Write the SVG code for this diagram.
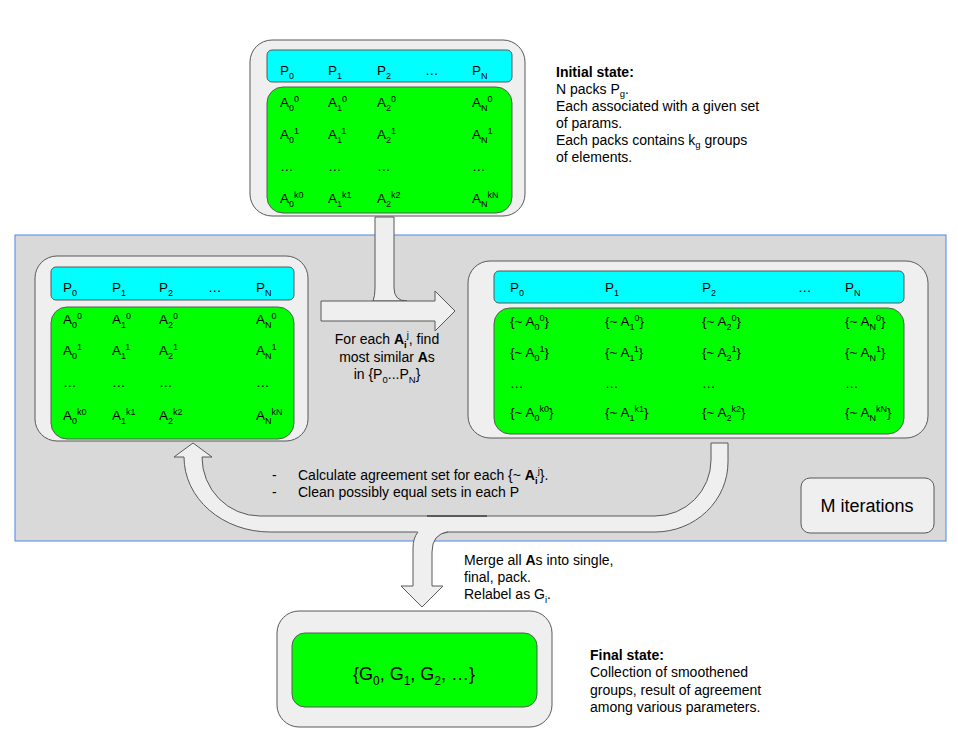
<svg xmlns="http://www.w3.org/2000/svg" width="958" height="755" viewBox="0 0 958 755">
<style>
text{font-family:"Liberation Sans",Arial,sans-serif;font-size:14px;fill:#000}
.c{font-size:13.5px}
.b{font-weight:bold}
.s{font-size:9px}
.ss{font-size:9.5px}
.m{text-anchor:middle}
.outer{fill:#efefef;stroke:#595959;stroke-width:1}
.cyan{fill:#00ffff;stroke:#595959;stroke-width:1}
.green{fill:#00ff00;stroke:#595959;stroke-width:1}
.arrow{fill:#efefef;stroke:#595959;stroke-width:1;stroke-linejoin:miter}
</style>
<rect width="958" height="755" fill="#ffffff"/>
<g id="iteration-region">
<rect x="15" y="235" width="931" height="306" fill="#d9d9d9" stroke="#4a86e8" stroke-width="1"/>
</g>

<g id="node-initial">
<rect class="outer" x="250" y="40" width="275" height="176" rx="22"/>
<rect class="cyan" x="267" y="50" width="245" height="32" rx="5"/>
<rect class="green" x="267" y="87" width="245" height="126" rx="16"/>
<text class="c" x="280" y="75">P<tspan class="s" dy="4">0</tspan></text>
<text class="c" x="328" y="75">P<tspan class="s" dy="4">1</tspan></text>
<text class="c" x="377" y="75">P<tspan class="s" dy="4">2</tspan></text>
<text class="c" x="425" y="75">…</text>
<text class="c" x="472" y="75">P<tspan class="s" dy="4">N</tspan></text>
<text class="c" x="280" y="107">A<tspan class="s" dy="4">0</tspan><tspan class="s" dy="-9">0</tspan></text>
<text class="c" x="328" y="107">A<tspan class="s" dy="4">1</tspan><tspan class="s" dy="-9">0</tspan></text>
<text class="c" x="377" y="107">A<tspan class="s" dy="4">2</tspan><tspan class="s" dy="-9">0</tspan></text>
<text class="c" x="472" y="107">A<tspan class="s" dy="4">N</tspan><tspan class="s" dy="-9">0</tspan></text>
<text class="c" x="280" y="139">A<tspan class="s" dy="4">0</tspan><tspan class="s" dy="-9">1</tspan></text>
<text class="c" x="328" y="139">A<tspan class="s" dy="4">1</tspan><tspan class="s" dy="-9">1</tspan></text>
<text class="c" x="377" y="139">A<tspan class="s" dy="4">2</tspan><tspan class="s" dy="-9">1</tspan></text>
<text class="c" x="472" y="139">A<tspan class="s" dy="4">N</tspan><tspan class="s" dy="-9">1</tspan></text>
<text class="c" x="280" y="171">…</text>
<text class="c" x="328" y="171">…</text>
<text class="c" x="377" y="171">…</text>
<text class="c" x="472" y="171">…</text>
<text class="c" x="280" y="203">A<tspan class="s" dy="4">0</tspan><tspan class="s" dy="-9">k0</tspan></text>
<text class="c" x="328" y="203">A<tspan class="s" dy="4">1</tspan><tspan class="s" dy="-9">k1</tspan></text>
<text class="c" x="377" y="203">A<tspan class="s" dy="4">2</tspan><tspan class="s" dy="-9">k2</tspan></text>
<text class="c" x="472" y="203">A<tspan class="s" dy="4">N</tspan><tspan class="s" dy="-9">kN</tspan></text>
</g>

<g id="label-initial">
<text x="556" y="77" class="b">Initial state:</text>
<text x="556" y="94">N packs P<tspan class="ss" dy="3">g</tspan><tspan dy="-3">.</tspan></text>
<text x="556" y="111">Each associated with a given set</text>
<text x="556" y="128">of params.</text>
<text x="556" y="145">Each packs contains k<tspan class="ss" dy="3">g</tspan><tspan dy="-3"> groups</tspan></text>
<text x="556" y="162">of elements.</text>
</g>

<g id="node-left">
<rect class="outer" x="35" y="256" width="273" height="185" rx="22"/>
<rect class="cyan" x="51" y="267" width="243" height="33" rx="5"/>
<rect class="green" x="51" y="307" width="243" height="132" rx="16"/>
<text class="c" x="63" y="292">P<tspan class="s" dy="4">0</tspan></text>
<text class="c" x="112" y="292">P<tspan class="s" dy="4">1</tspan></text>
<text class="c" x="159" y="292">P<tspan class="s" dy="4">2</tspan></text>
<text class="c" x="208" y="292">…</text>
<text class="c" x="256" y="292">P<tspan class="s" dy="4">N</tspan></text>
<text class="c" x="63" y="324">A<tspan class="s" dy="4">0</tspan><tspan class="s" dy="-9">0</tspan></text>
<text class="c" x="112" y="324">A<tspan class="s" dy="4">1</tspan><tspan class="s" dy="-9">0</tspan></text>
<text class="c" x="159" y="324">A<tspan class="s" dy="4">2</tspan><tspan class="s" dy="-9">0</tspan></text>
<text class="c" x="256" y="324">A<tspan class="s" dy="4">N</tspan><tspan class="s" dy="-9">0</tspan></text>
<text class="c" x="63" y="355">A<tspan class="s" dy="4">0</tspan><tspan class="s" dy="-9">1</tspan></text>
<text class="c" x="112" y="355">A<tspan class="s" dy="4">1</tspan><tspan class="s" dy="-9">1</tspan></text>
<text class="c" x="159" y="355">A<tspan class="s" dy="4">2</tspan><tspan class="s" dy="-9">1</tspan></text>
<text class="c" x="256" y="355">A<tspan class="s" dy="4">N</tspan><tspan class="s" dy="-9">1</tspan></text>
<text class="c" x="63" y="387">…</text>
<text class="c" x="112" y="387">…</text>
<text class="c" x="159" y="387">…</text>
<text class="c" x="256" y="387">…</text>
<text class="c" x="63" y="420">A<tspan class="s" dy="4">0</tspan><tspan class="s" dy="-9">k0</tspan></text>
<text class="c" x="112" y="420">A<tspan class="s" dy="4">1</tspan><tspan class="s" dy="-9">k1</tspan></text>
<text class="c" x="159" y="420">A<tspan class="s" dy="4">2</tspan><tspan class="s" dy="-9">k2</tspan></text>
<text class="c" x="256" y="420">A<tspan class="s" dy="4">N</tspan><tspan class="s" dy="-9">kN</tspan></text>
</g>

<g id="node-right">
<rect class="outer" x="468" y="261" width="460" height="177" rx="22"/>
<rect class="cyan" x="494" y="271" width="410" height="32" rx="5"/>
<rect class="green" x="494" y="308" width="410" height="126" rx="16"/>
<text class="c" x="510" y="292">P<tspan class="s" dy="4">0</tspan></text>
<text class="c" x="605" y="292">P<tspan class="s" dy="4">1</tspan></text>
<text class="c" x="702" y="292">P<tspan class="s" dy="4">2</tspan></text>
<text class="c" x="798" y="292">…</text>
<text class="c" x="845" y="292">P<tspan class="s" dy="4">N</tspan></text>
<text class="c" x="510" y="326">{~ A<tspan class="s" dy="4">0</tspan><tspan class="s" dy="-9">0</tspan><tspan dy="5">}</tspan></text>
<text class="c" x="605" y="326">{~ A<tspan class="s" dy="4">1</tspan><tspan class="s" dy="-9">0</tspan><tspan dy="5">}</tspan></text>
<text class="c" x="702" y="326">{~ A<tspan class="s" dy="4">2</tspan><tspan class="s" dy="-9">0</tspan><tspan dy="5">}</tspan></text>
<text class="c" x="845" y="326">{~ A<tspan class="s" dy="4">N</tspan><tspan class="s" dy="-9">0</tspan><tspan dy="5">}</tspan></text>
<text class="c" x="510" y="357">{~ A<tspan class="s" dy="4">0</tspan><tspan class="s" dy="-9">1</tspan><tspan dy="5">}</tspan></text>
<text class="c" x="605" y="357">{~ A<tspan class="s" dy="4">1</tspan><tspan class="s" dy="-9">1</tspan><tspan dy="5">}</tspan></text>
<text class="c" x="702" y="357">{~ A<tspan class="s" dy="4">2</tspan><tspan class="s" dy="-9">1</tspan><tspan dy="5">}</tspan></text>
<text class="c" x="845" y="357">{~ A<tspan class="s" dy="4">N</tspan><tspan class="s" dy="-9">1</tspan><tspan dy="5">}</tspan></text>
<text class="c" x="510" y="388">…</text>
<text class="c" x="605" y="388">…</text>
<text class="c" x="702" y="388">…</text>
<text class="c" x="845" y="388">…</text>
<text class="c" x="510" y="417">{~ A<tspan class="s" dy="4">0</tspan><tspan class="s" dy="-9">k0</tspan><tspan dy="5">}</tspan></text>
<text class="c" x="605" y="417">{~ A<tspan class="s" dy="4">1</tspan><tspan class="s" dy="-9">k1</tspan><tspan dy="5">}</tspan></text>
<text class="c" x="702" y="417">{~ A<tspan class="s" dy="4">2</tspan><tspan class="s" dy="-9">k2</tspan><tspan dy="5">}</tspan></text>
<text class="c" x="845" y="417">{~ A<tspan class="s" dy="4">N</tspan><tspan class="s" dy="-9">kN</tspan><tspan dy="5">}</tspan></text>
</g>

<g id="node-iterations">
<rect class="outer" x="801" y="478" width="133" height="55" rx="9"/>
<text x="867" y="512" class="m" style="font-size:18px">M iterations</text>
</g>

<g id="node-final">
<rect class="outer" x="277" y="611" width="275" height="116" rx="22"/>
<rect class="green" x="292" y="633" width="245" height="74" rx="13"/>
<text x="414" y="680" class="m" style="font-size:18px">{G<tspan style="font-size:12px" dy="5">0</tspan><tspan dy="-5">, G</tspan><tspan style="font-size:12px" dy="5">1</tspan><tspan dy="-5">, G</tspan><tspan style="font-size:12px" dy="5">2</tspan><tspan dy="-5">, …}</tspan></text>
</g>

<g id="label-final">
<text x="590" y="660" class="b">Final state:</text>
<text x="590" y="677">Collection of smoothened</text>
<text x="590" y="695">groups, result of agreement</text>
<text x="590" y="712">among various parameters.</text>
</g>

<g id="connectors">
<path class="arrow" d="M375,217 L394,217 L394,288 Q394,301 407,301 L373,301 Q375,296 375,288 Z"/>
<path class="arrow" d="M321,301 L435,301 L435,291 L455,311 L435,331 L435,321 L321,321 Z"/>
<path class="arrow" d="M711,443 L728,443 L728,462 A73,70 0 0 1 655,532 L270,532 A86,75 0 0 1 184,457 L174,457 L193,443 L212,457 L202,457 A58,59 0 0 0 260,516 L655,516 A56,56 0 0 0 711,460 Z"/>
<line x1="427" y1="516" x2="487" y2="516" stroke="#595959" stroke-width="2"/>
<path d="M418,531 L448,531 Q432,534 432,552 L432,586 L443,586 L422,607 L401,586 L413,586 L413,548 Q413,538 418,531 Z" fill="#efefef"/>
<path d="M448,532 Q432,534 432,552 L432,586 L443,586 L422,607 L401,586 L413,586 L413,548 Q413,538 418,532" fill="none" stroke="#595959" stroke-width="1"/>
</g>

<g id="labels">
<text x="387" y="344" class="m">For each <tspan class="b">A</tspan><tspan class="ss b" dy="4">i</tspan><tspan class="ss" dy="-10">j</tspan><tspan dy="6">, find</tspan></text>
<text x="387" y="362" class="m">most similar <tspan class="b">A</tspan>s</text>
<text x="387" y="379" class="m">in {P<tspan class="ss" dy="4">0</tspan><tspan dy="-4">...P</tspan><tspan class="ss" dy="4">N</tspan><tspan dy="-4">}</tspan></text>
<text x="272" y="480">-</text>
<text x="298" y="480">Calculate agreement set for each {~ <tspan class="b">A</tspan><tspan class="ss b" dy="4">i</tspan><tspan class="ss" dy="-10">j</tspan><tspan dy="6">}.</tspan></text>
<text x="272" y="497">-</text>
<text x="298" y="497">Clean possibly equal sets in each P</text>
<text x="464" y="565">Merge all <tspan class="b">A</tspan>s into single,</text>
<text x="464" y="582">final, pack.</text>
<text x="464" y="599">Relabel as G<tspan class="ss" dy="4">i</tspan><tspan dy="-4">.</tspan></text>
</g>
</svg>
